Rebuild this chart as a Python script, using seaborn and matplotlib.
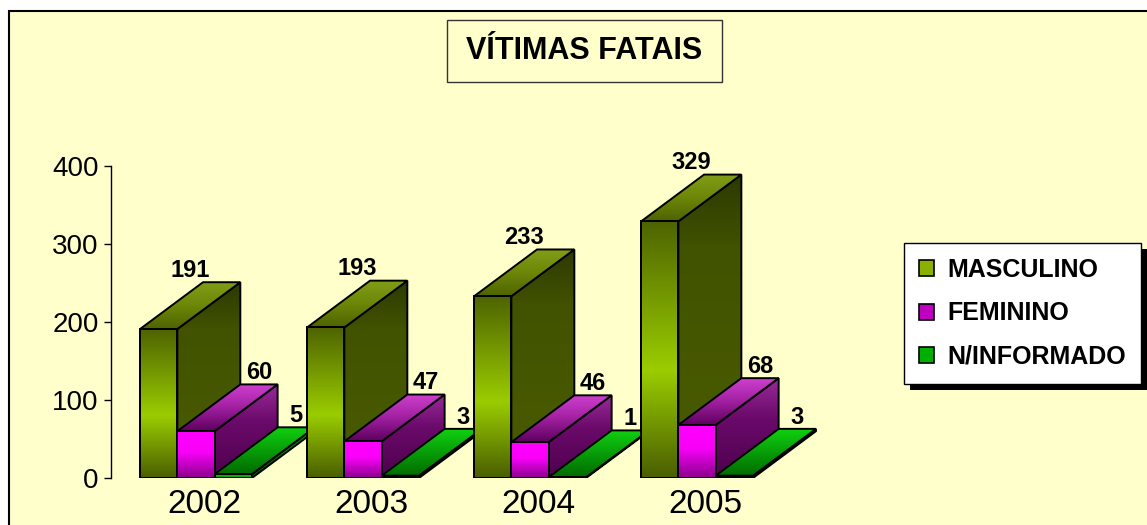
import numpy as np
import pandas as pd
import matplotlib
matplotlib.use("Agg")
import matplotlib.pyplot as plt
from matplotlib.patches import Polygon, Rectangle, Patch
from matplotlib.colors import LinearSegmentedColormap
from matplotlib.transforms import ScaledTranslation, IdentityTransform
import seaborn as sns

# ---------------------------------------------------------------------------
# Data
# ---------------------------------------------------------------------------
anos = ["2002", "2003", "2004", "2005"]
series = ["MASCULINO", "FEMININO", "N/INFORMADO"]
masculino = [191, 193, 233, 329]
feminino = [60, 47, 46, 68]
n_informado = [5, 3, 1, 3]
y_ticks = [0, 100, 200, 300, 400]
titulo = "VÍTIMAS FATAIS"

# ---------------------------------------------------------------------------
# Style
# ---------------------------------------------------------------------------
W, H = 1147, 525
BG = "#FFFFCC"
DX, DY = 0.377, 60          # fake 3D depth (data units)
LABEL_SHIFT = [0.5, 1.0, 1.0]
FRONT = [
    [(0, "#4E6300"), (0.58, "#9ACD00"), (1, "#4A5E00")],
    [(0, "#FF00FF"), (0.45, "#F800F8"), (1, "#8A008A")],
    [(0, "#00CC00"), (1, "#009900")],
]
TOP = [
    [(0, "#819E18"), (0.5, "#6D8708"), (1, "#4E6300")],
    [(0, "#D040D0"), (0.5, "#A020A0"), (1, "#5E005E")],
    [(0, "#10D010"), (1, "#006A00")],
]
SIDE = [
    [(0, "#2C3A00"), (0.25, "#425300"), (1, "#4A5C00")],
    [(0, "#9A2A9A"), (0.4, "#6A0A6A"), (1, "#4E004E")],
    [(0, "#00AA00"), (1, "#005500")],
]
LEGEND_COLORS = ["#8CB000", "#C000C0", "#00B000"]

sns.set_theme(style="white")
plt.rcParams["font.family"] = ["Liberation Sans", "DejaVu Sans"]
plt.rcParams["text.color"] = "black"

df = pd.DataFrame({
    "ano": anos * 3,
    "sexo": [s for s in series for _ in anos],
    "vitimas": masculino + feminino + n_informado,
})


def gradient_fill(ax, verts, stops, z):
    poly = Polygon(verts, closed=True, facecolor="none", edgecolor="black",
                   linewidth=1.4, zorder=z + 0.005, joinstyle="miter")
    ax.add_patch(poly)
    xs, ys = zip(*verts)
    cmap = LinearSegmentedColormap.from_list("g", stops)
    grad = np.linspace(0, 1, 256).reshape(-1, 1)
    im = ax.imshow(grad, cmap=cmap, aspect="auto", origin="upper",
                   extent=(min(xs), max(xs), min(ys), max(ys)),
                   interpolation="bilinear", zorder=z)
    im.set_clip_path(poly)


fig = plt.figure(figsize=(W / 100, H / 100), dpi=100, facecolor="white")

# outer frame
fig.add_artist(Rectangle((9 / W, -0.5), 2, 1.5 - 11 / H, transform=fig.transFigure,
                         facecolor=BG, edgecolor="black", linewidth=1.5, zorder=-10))

ax = fig.add_axes([111 / W, 47 / H, (840 - 111) / W, 312 / H])
ax.set_facecolor("none")

sns.barplot(data=df, x="ano", y="vitimas", hue="sexo", order=anos, hue_order=series,
            width=0.67, saturation=1, palette=LEGEND_COLORS, legend=False,
            edgecolor="black", linewidth=1.4, ax=ax)

# collect bars and redraw them as pseudo-3D boxes, left to right
bars = []
for k, cont in enumerate(ax.containers):
    for bar in cont:
        bars.append((bar.get_x(), k, bar))
bars.sort(key=lambda t: t[0])

for i, (x0, k, bar) in enumerate(bars):
    x1 = x0 + bar.get_width()
    h = bar.get_height()
    z = 2 + i * 0.05
    bar.set_facecolor("none")
    bar.set_zorder(z + 0.04)
    gradient_fill(ax, [(x1, 0), (x1 + DX, DY), (x1 + DX, h + DY), (x1, h)], SIDE[k], z)
    gradient_fill(ax, [(x0, h), (x1, h), (x1 + DX, h + DY), (x0 + DX, h + DY)], TOP[k], z + 0.01)
    gradient_fill(ax, [(x0, 0), (x1, 0), (x1, h), (x0, h)], FRONT[k], z + 0.02)
    xc = (x0 + x1) / 2
    ax.annotate(f"{int(h)}", (xc + LABEL_SHIFT[k] * DX, h + DY), xytext=(0, 8.5),
                textcoords="offset points", ha="center", va="center",
                fontsize=17, fontweight="bold", color="black", zorder=50)

ax.set_xlim(-0.509, 3.856)
ax.set_ylim(0, 400)
ax.set_yticks(y_ticks)
ax.set_xlabel("")
ax.set_ylabel("")
for side in ["top", "right", "bottom"]:
    ax.spines[side].set_visible(False)
ax.spines["left"].set_color("black")
ax.spines["left"].set_linewidth(1)
ax.tick_params(axis="y", direction="out", length=5, width=1, color="black",
               pad=4, labelsize=20, labelcolor="black", left=True)
ax.tick_params(axis="x", length=0, pad=8, labelsize=24, labelcolor="black")
for lab in ax.get_xticklabels():
    lab.set_transform(lab.get_transform() + ScaledTranslation(0.08, 0, fig.dpi_scale_trans))

# title box
fig.add_artist(Rectangle((447 / W, 1 - 82 / H), 275 / W, 62 / H, transform=fig.transFigure,
                         facecolor=BG, edgecolor="#333333", linewidth=1, zorder=3))
fig.text(584.5 / W, 1 - 51 / H, titulo, ha="center", va="center",
         fontsize=22, fontweight="bold", color="black", zorder=4)

# legend with hard shadow
handles = [Patch(facecolor=c, edgecolor="black", linewidth=1.2) for c in LEGEND_COLORS]
leg = fig.legend(handles, series, loc="upper left", bbox_to_anchor=(904 / W, 1 - 243 / H),
                 frameon=True, fancybox=False, edgecolor="black", facecolor="white",
                 framealpha=1, prop=dict(weight="bold", size=18), handlelength=0.6,
                 handleheight=0.6, handletextpad=0.55, labelspacing=0.78,
                 borderpad=0.6, borderaxespad=0, labelcolor="black")
leg.get_frame().set_linewidth(1)
leg.set_zorder(6)
fig.canvas.draw()
bb = leg.get_window_extent()
fig.add_artist(Rectangle((bb.x0 + 6, bb.y0 - 6), bb.width, bb.height,
                         transform=IdentityTransform(), facecolor="black",
                         edgecolor="none", zorder=5))

fig.savefig("out.png", dpi=100, facecolor="white")
